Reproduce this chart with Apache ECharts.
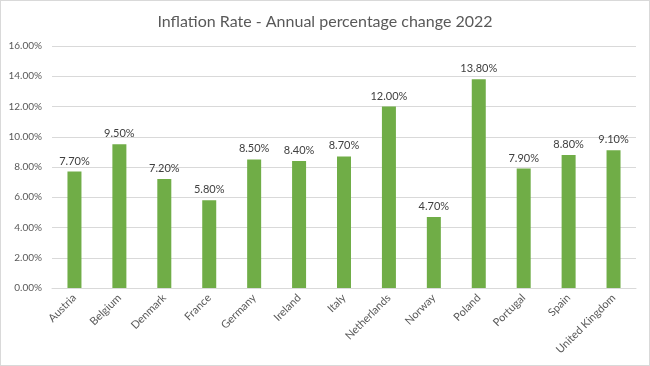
<!DOCTYPE html>
<html><head><meta charset="utf-8">
<script src="https://cdn.jsdelivr.net/npm/echarts@6/dist/echarts.min.js"></script>
<style>html,body{margin:0;padding:0;background:#fff}#c{width:650px;height:366px;box-sizing:border-box;border:1px solid #d9d9d9}</style>
</head><body><div id="c"></div>
<script>
const categories = ["Austria","Belgium","Denmark","France","Germany","Ireland","Italy","Netherlands","Norway","Poland","Portugal","Spain","United Kingdom"];
const values = [7.7,9.5,7.2,5.8,8.5,8.4,8.7,12.0,4.7,13.8,7.9,8.8,9.1];
const chart = echarts.init(document.getElementById('c'));
chart.setOption({
  animation:false,
  textStyle:{fontFamily:'Lato'},
  title:{text:'Inflation Rate - Annual percentage change 2022',left:'center',top:8,textStyle:{fontFamily:'Lato',fontSize:16,fontWeight:'normal',color:'#595959'}},
  grid:{left:51,right:13,top:45,bottom:77,containLabel:false},
  xAxis:{type:'category',data:categories,axisLine:{lineStyle:{color:'#d9d9d9'}},axisTick:{show:false},
    axisLabel:{rotate:45,interval:0,color:'#595959',fontSize:11,margin:8,fontFamily:'Lato'}},
  yAxis:{type:'value',min:0,max:16,interval:2,axisLine:{show:false},axisTick:{show:false},
    splitLine:{lineStyle:{color:'#d9d9d9'}},
    axisLabel:{formatter:v=>v.toFixed(2)+'%',color:'#595959',fontSize:10,margin:10,fontFamily:'Lato'}},
  series:[{type:'bar',data:values,barWidth:14,itemStyle:{color:'#70AD47'},
    label:{show:true,position:'top',distance:5,formatter:p=>p.value.toFixed(2)+'%',color:'#404040',fontSize:11,fontFamily:'Lato'}}]
});
</script></body></html>
